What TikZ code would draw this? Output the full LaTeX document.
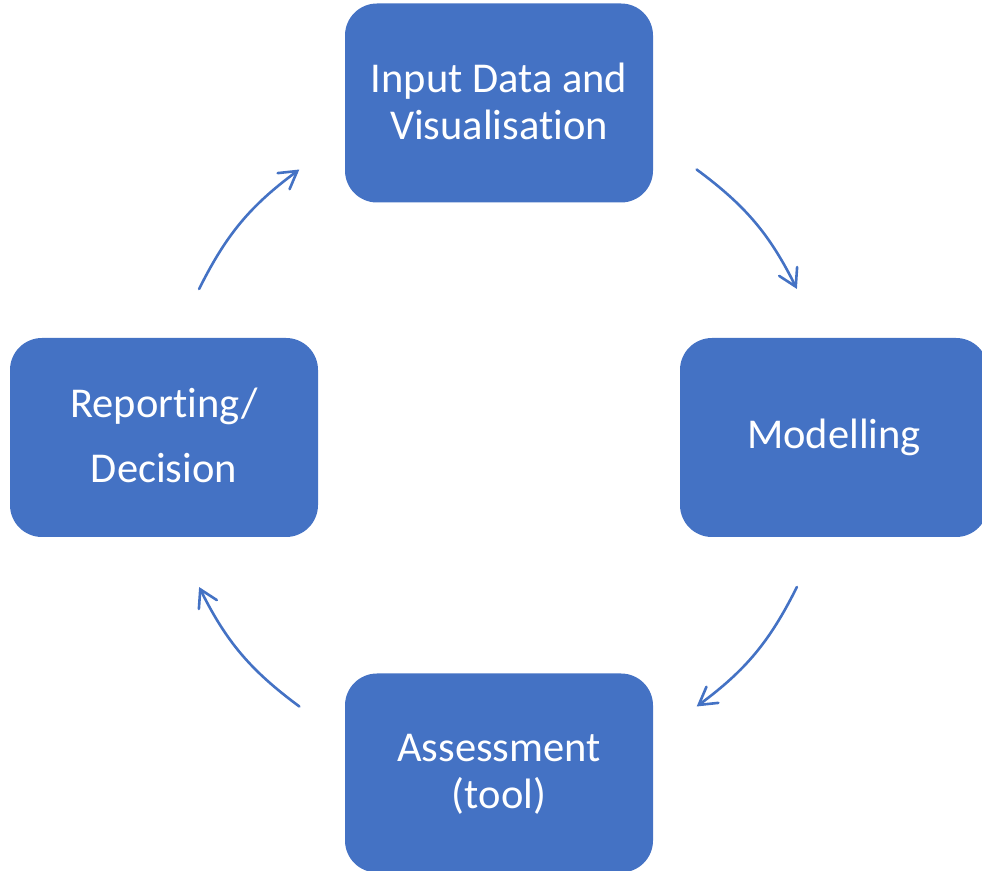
\documentclass[tikz,border=0pt]{standalone}
\usepackage{fontspec}
\setmainfont[RawFeature={-liga;-clig;-dlig;-calt}]{Carlito}
\usetikzlibrary{arrows.meta}
\definecolor{officeblue}{HTML}{4472C4}
\begin{document}
\begin{tikzpicture}[x=1pt,y=1pt,
  stage/.style={fill=officeblue, draw=none, rounded corners=32pt,
    minimum width=308pt, minimum height=199pt, inner sep=0pt},
  caption/.style={text=white, anchor=base, inner sep=0pt,
    font=\fontsize{42.5}{46}\selectfont},
  flow/.style={draw=officeblue, line width=2.6pt, line cap=round,
    -{Straight Barb[length=17pt,width=20pt,line cap=round]}}]
\useasboundingbox (0,0) rectangle (982,870);

% the four stages of the cycle
\node[stage] (input)  at (499,767)   {};
\node[stage] (model)  at (834,432.5) {};
\node[stage] (assess) at (499,97)    {};
\node[stage] (report) at (164,432.5) {};

% stage labels, placed on their baselines
\node[caption] (inputA)  at (499,777) {Input Data and};
\node[caption] (inputB)  at (499,730) {Visualisation};
\node[caption] (modelA)  at (834,421) {Modelling};
\node[caption] (assessA) at (499,108) {Assessment};
\node[caption] (assessB) at (499,62)  {(tool)};
\node[caption] (reportA) at (164,452) {Reporting/};
\node[caption] (reportB) at (164,387) {Decision};

% arc end points on a circle around the middle of the cycle
\coordinate (hub) at (498,432);
\path (hub) ++(153.5:334)  coordinate (a1s) (hub) ++(126.5:334)  coordinate (a1e);
\path (hub) ++(53.5:334)   coordinate (a2s) (hub) ++(26.5:334)   coordinate (a2e);
\path (hub) ++(-26.5:334)  coordinate (a3s) (hub) ++(-53.5:334)  coordinate (a3e);
\path (hub) ++(-126.5:334) coordinate (a4s) (hub) ++(-153.5:334) coordinate (a4e);

% clockwise arrows between the stages
\draw[flow] (a1s) to[bend left=13.5] (a1e);
\draw[flow] (a2s) to[bend left=13.5] (a2e);
\draw[flow] (a3s) to[bend left=13.5] (a3e);
\draw[flow] (a4s) to[bend left=13.5] (a4e);
\end{tikzpicture}
\end{document}
